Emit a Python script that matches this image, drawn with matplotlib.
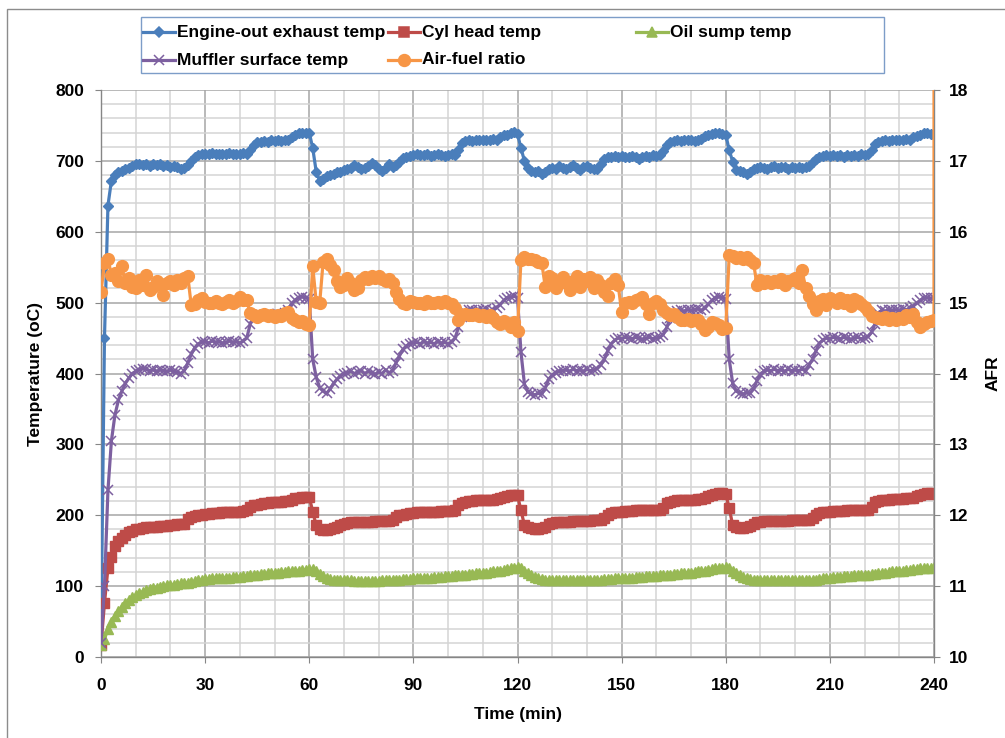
import matplotlib
matplotlib.use("Agg")
import matplotlib.pyplot as plt
from matplotlib.lines import Line2D
from matplotlib.patches import Rectangle
from matplotlib.ticker import MultipleLocator

plt.rcParams['font.family'] = ['Liberation Sans', 'DejaVu Sans']
plt.rcParams['font.weight'] = 'bold'

# time in minutes, one reading per minute
minutes = list(range(241))

engine_out = [
    30, 450, 637, 672, 680, 684, 686, 688, 690, 693,
    695, 696, 694, 696, 693, 695, 694, 696, 693, 694,
    692, 693, 691, 688, 690, 694, 700, 705, 708, 710,
    709, 710, 711, 709, 710, 710, 709, 711, 710, 709,
    710, 711, 710, 716, 722, 726, 727, 728, 727, 729,
    728, 729, 728, 729, 730, 734, 736, 739, 740, 739,
    740, 718, 685, 672, 675, 679, 680, 682, 684, 685,
    687, 689, 690, 694, 692, 688, 690, 693, 697, 694,
    689, 686, 690, 695, 692, 694, 699, 704, 706, 707,
    708, 709, 708, 708, 710, 707, 708, 709, 708, 707,
    708, 709, 708, 716, 725, 728, 729, 728, 730, 729,
    729, 730, 729, 731, 730, 733, 736, 737, 739, 741,
    738, 718, 700, 690, 686, 684, 686, 682, 685, 688,
    690, 688, 693, 690, 688, 692, 694, 690, 687, 691,
    693, 690, 688, 689, 695, 702, 705, 706, 707, 706,
    707, 706, 706, 707, 705, 703, 706, 707, 706, 708,
    707, 708, 714, 722, 727, 728, 729, 728, 729, 730,
    729, 728, 730, 731, 735, 737, 738, 740, 739, 738,
    737, 715, 699, 687, 686, 684, 682, 685, 688, 690,
    692, 690, 689, 691, 693, 690, 692, 691, 689, 691,
    690, 692, 690, 691, 693, 698, 703, 706, 707, 708,
    707, 708, 707, 708, 706, 708, 707, 708, 707, 709,
    708, 710, 716, 724, 727, 728, 729, 728, 730, 729,
    730, 729, 731, 730, 734, 735, 737, 739, 740, 738,
    737]

cyl_head = [
    17, 76, 125, 141, 156, 163, 168, 172, 176, 178,
    180, 181, 182, 183, 183, 184, 184, 185, 185, 185,
    186, 186, 187, 187, 188, 195, 198, 199, 200, 201,
    202, 202, 203, 203, 203, 204, 204, 204, 205, 205,
    205, 206, 207, 212, 214, 215, 216, 217, 217, 218,
    218, 219, 219, 220, 220, 222, 224, 225, 226, 226,
    226, 205, 186, 181, 179, 179, 180, 182, 184, 186,
    188, 189, 190, 190, 191, 191, 191, 191, 191, 192,
    192, 192, 192, 192, 193, 197, 200, 201, 202, 203,
    203, 204, 204, 204, 205, 205, 205, 205, 206, 206,
    206, 206, 208, 215, 217, 219, 220, 220, 221, 221,
    221, 222, 222, 222, 223, 225, 226, 227, 228, 228,
    228, 207, 186, 183, 182, 181, 181, 182, 184, 187,
    189, 190, 191, 191, 191, 191, 192, 192, 192, 192,
    192, 192, 193, 193, 193, 196, 201, 203, 204, 205,
    205, 206, 206, 206, 207, 207, 207, 207, 208, 208,
    208, 208, 210, 217, 219, 220, 221, 221, 222, 222,
    222, 222, 223, 223, 224, 227, 229, 230, 231, 231,
    230, 210, 186, 183, 182, 182, 183, 185, 188, 190,
    191, 192, 192, 192, 192, 192, 192, 192, 192, 193,
    193, 193, 193, 193, 194, 196, 200, 203, 204, 205,
    205, 206, 206, 206, 206, 207, 207, 207, 207, 208,
    208, 208, 212, 218, 220, 221, 222, 222, 223, 223,
    223, 223, 224, 224, 225, 227, 229, 230, 231, 231,
    230]

oil_sump = [
    17, 25, 40, 50, 58, 65, 71, 76, 80, 84,
    87, 90, 92, 94, 96, 97, 98, 99, 100, 101,
    102, 102, 103, 104, 104, 105, 106, 107, 108, 109,
    110, 110, 111, 111, 111, 112, 112, 112, 113, 113,
    113, 114, 114, 115, 116, 116, 117, 117, 118, 118,
    119, 119, 120, 120, 121, 121, 122, 122, 123, 123,
    124, 124, 121, 117, 114, 112, 110, 109, 109, 108,
    108, 108, 108, 107, 107, 107, 107, 107, 107, 107,
    107, 108, 108, 108, 109, 109, 109, 110, 110, 110,
    111, 111, 111, 112, 112, 112, 113, 113, 113, 114,
    114, 114, 115, 115, 116, 116, 117, 117, 118, 118,
    119, 119, 120, 121, 121, 122, 123, 124, 125, 126,
    127, 125, 122, 119, 116, 113, 111, 110, 109, 109,
    108, 108, 108, 108, 108, 108, 108, 108, 108, 108,
    108, 108, 109, 109, 109, 110, 110, 110, 111, 111,
    111, 112, 112, 112, 113, 113, 113, 114, 114, 114,
    114, 115, 115, 116, 116, 117, 117, 118, 118, 119,
    119, 120, 121, 122, 122, 123, 124, 125, 126, 126,
    127, 125, 122, 119, 116, 113, 111, 110, 109, 109,
    109, 109, 108, 108, 108, 108, 108, 108, 108, 108,
    108, 108, 108, 108, 108, 109, 109, 110, 111, 112,
    112, 113, 113, 113, 114, 114, 114, 115, 115, 115,
    116, 116, 117, 117, 118, 119, 119, 120, 121, 121,
    122, 122, 123, 123, 124, 124, 125, 125, 126, 126,
    127]

muffler = [
    20, 100, 235, 305, 341, 362, 375, 386, 393, 400,
    403, 405, 407, 406, 404, 405, 403, 405, 404, 403,
    405, 403, 402, 400, 404, 415, 427, 436, 442, 444,
    445, 443, 446, 444, 445, 443, 444, 446, 444, 445,
    443, 446, 450, 470, 478, 481, 483, 482, 484, 483,
    482, 484, 483, 485, 490, 499, 504, 507, 508, 507,
    505, 420, 395, 380, 375, 372, 378, 386, 392, 397,
    400, 401, 403, 400, 402, 404, 400, 403, 401, 399,
    402, 400, 405, 401, 404, 415, 425, 434, 439, 442,
    443, 444, 442, 445, 443, 444, 442, 445, 443, 444,
    442, 444, 450, 465, 480, 487, 489, 490, 488, 490,
    489, 491, 488, 490, 493, 497, 503, 507, 508, 509,
    507, 430, 385, 374, 371, 370, 372, 371, 380, 392,
    398, 401, 403, 404, 405, 403, 406, 404, 405, 403,
    406, 404, 405, 407, 412, 420, 432, 442, 447, 450,
    449, 451, 450, 449, 451, 450, 448, 450, 451, 449,
    450, 451, 455, 465, 478, 486, 488, 489, 488, 490,
    489, 490, 491, 489, 492, 498, 503, 507, 508, 507,
    505, 420, 386, 375, 373, 371, 373, 372, 378, 390,
    399, 403, 405, 404, 406, 404, 405, 403, 406, 404,
    405, 404, 406, 404, 412, 420, 432, 443, 447, 450,
    449, 451, 450, 449, 451, 450, 448, 450, 451, 449,
    450, 452, 458, 470, 486, 489, 488, 490, 489, 490,
    489, 491, 490, 492, 495, 499, 503, 506, 507, 506,
    507]

# AFR has one extra reading at the end (off-scale spike at 240 min)
afr_minutes = minutes + [240]
afr = [
    15.15, 15.56, 15.62, 15.39, 15.42, 15.30, 15.51, 15.28, 15.35, 15.22,
    15.20, 15.32, 15.25, 15.39, 15.18, 15.22, 15.30, 15.26, 15.11, 15.28,
    15.30, 15.25, 15.32, 15.28, 15.35, 15.38, 14.96, 14.98, 15.03, 15.07,
    15.01, 14.99, 15.00, 15.02, 15.00, 14.98, 15.01, 15.03, 15.00, 15.02,
    15.08, 15.04, 15.03, 14.85, 14.82, 14.80, 14.83, 14.84, 14.81, 14.82,
    14.80, 14.82, 14.81, 14.86, 14.87, 14.78, 14.75, 14.72, 14.74, 14.70,
    14.68, 15.51, 15.01, 14.99, 15.58, 15.62, 15.53, 15.46, 15.30, 15.22,
    15.25, 15.35, 15.28, 15.18, 15.20, 15.32, 15.36, 15.33, 15.37, 15.35,
    15.38, 15.34, 15.30, 15.33, 15.28, 15.15, 15.05, 15.00, 14.98, 15.02,
    15.01, 14.99, 15.00, 14.98, 15.02, 15.00, 14.99, 15.01, 15.00, 15.02,
    14.99, 14.98, 14.93, 14.75, 14.82, 14.84, 14.83, 14.82, 14.84, 14.81,
    14.82, 14.80, 14.83, 14.79, 14.72, 14.70, 14.74, 14.71, 14.66, 14.73,
    14.60, 15.60, 15.65, 15.62, 15.61, 15.60, 15.58, 15.56, 15.22, 15.38,
    15.35, 15.20, 15.30, 15.36, 15.28, 15.18, 15.31, 15.37, 15.22, 15.33,
    15.30, 15.36, 15.20, 15.32, 15.25, 15.15, 15.10, 15.28, 15.34, 15.25,
    14.87, 14.99, 15.01, 15.00, 15.03, 15.05, 15.08, 14.98, 14.84, 14.99,
    15.02, 14.98, 14.90, 14.85, 14.82, 14.84, 14.80, 14.76, 14.75, 14.77,
    14.74, 14.76, 14.75, 14.70, 14.62, 14.66, 14.72, 14.71, 14.68, 14.63,
    14.64, 15.67, 15.66, 15.63, 15.64, 15.62, 15.64, 15.60, 15.56, 15.25,
    15.32, 15.28, 15.30, 15.27, 15.31, 15.29, 15.33, 15.25, 15.30, 15.32,
    15.35, 15.28, 15.46, 15.20, 15.10, 14.98, 14.90, 15.02, 15.05, 14.97,
    15.06, 15.04, 14.99, 15.07, 15.00, 15.03, 14.95, 15.05, 15.02, 14.98,
    14.94, 14.88, 14.81, 14.80, 14.79, 14.77, 14.80, 14.76, 14.78, 14.75,
    14.79, 14.77, 14.82, 14.80, 14.84, 14.72, 14.66, 14.70, 14.72, 14.74,
    14.76, 20.0]

blue = '#4A7EBB'
red = '#BE4B48'
green = '#98B954'
purple = '#7D60A0'
orange = '#F79646'

W, H = 1005, 738
fig = plt.figure(figsize=(W / 100, H / 100), dpi=100)


def fx(px):
    return px / W


def fy(py):
    return 1 - py / H


# outer chart border
fig.add_artist(Rectangle((fx(7), -0.05), 1.2, fy(9) + 0.05, transform=fig.transFigure,
                         fill=False, edgecolor='#8C8C8C', lw=1.0))

ax = fig.add_axes([fx(101), fy(657), (934 - 101) / W, (657 - 90) / H])
ax2 = ax.twinx()

ax.plot(minutes, engine_out, color=blue, lw=2.3, marker='D', ms=5.5, zorder=3)
ax.plot(minutes, cyl_head, color=red, lw=2.3, marker='s', ms=6.5, zorder=3)
ax.plot(minutes, oil_sump, color=green, lw=2.3, marker='^', ms=7, zorder=3)
ax.plot(minutes, muffler, color=purple, lw=2.3, marker='x', ms=7, mew=1.1, zorder=3)
ax2.plot(afr_minutes, afr, color=orange, lw=2.3, marker='o', ms=8.5, zorder=3)

ax.set_xlim(0, 240)
ax.set_ylim(0, 800)
ax2.set_ylim(10, 18)

ax.xaxis.set_major_locator(MultipleLocator(30))
ax.xaxis.set_minor_locator(MultipleLocator(10))
ax.yaxis.set_major_locator(MultipleLocator(100))
ax.yaxis.set_minor_locator(MultipleLocator(20))
ax2.yaxis.set_major_locator(MultipleLocator(1))

ax.grid(which='major', color='#A6A6A6', lw=1.1)
ax.grid(which='minor', color='#D4D4D4', lw=1.1)
ax.set_axisbelow(True)

axis_grey = '#868686'
for a in (ax, ax2):
    for side in ('top', 'left', 'bottom', 'right'):
        a.spines[side].set_visible(False)
ax.spines['left'].set_visible(True)
ax.spines['bottom'].set_visible(True)
ax2.spines['right'].set_visible(True)
for sp in (ax.spines['left'], ax.spines['bottom'], ax2.spines['right']):
    sp.set_color(axis_grey)
    sp.set_linewidth(1.0)

ax.tick_params(which='major', direction='out', length=4, color=axis_grey,
               labelsize=12.5, pad=8)
ax.tick_params(which='minor', length=0)
ax.tick_params(axis='x', pad=11)
ax2.tick_params(direction='out', length=4, color=axis_grey, labelsize=12.5, pad=7)

ax.set_xlabel('Time (min)', fontsize=12.5, fontweight='bold', labelpad=10)
ax.set_ylabel('Temperature (oC)', fontsize=12.5, fontweight='bold', labelpad=9)
ax2.set_ylabel('AFR', fontsize=12.5, fontweight='bold', labelpad=12)

# legend box drawn by hand, Excel style with equal column widths
fig.add_artist(Rectangle((fx(141), fy(73)), fx(884) - fx(141), fy(17) - fy(73),
                         transform=fig.transFigure, fill=False,
                         edgecolor='#7D9DC8', lw=1.0))
entries = [
    ('Engine-out exhaust temp', blue, 'D', 5.5, 143, 32),
    ('Cyl head temp', red, 's', 6.5, 388, 32),
    ('Oil sump temp', green, '^', 7, 636, 32),
    ('Muffler surface temp', purple, 'x', 7, 143, 60),
    ('Air-fuel ratio', orange, 'o', 8.5, 388, 60),
]
for label, col, mk, size, x0, y0 in entries:
    fig.add_artist(Line2D([fx(x0), fx(x0 + 16), fx(x0 + 32)], [fy(y0)] * 3,
                          transform=fig.transFigure, color=col, lw=2.3,
                          marker=mk, ms=size, mew=1.1, markevery=[1]))
    fig.text(fx(x0 + 34), fy(y0), label, fontsize=12.5, fontweight='bold',
             va='center', ha='left')

fig.savefig('out.png', dpi=100)
